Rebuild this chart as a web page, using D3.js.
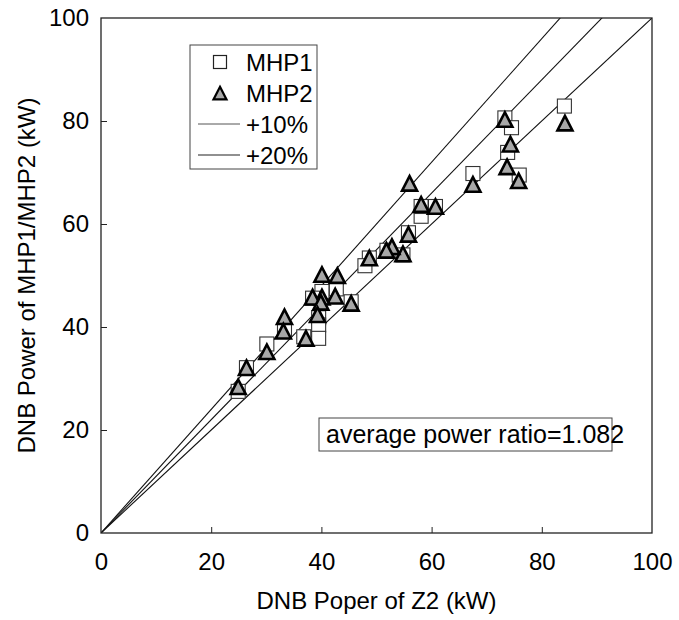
<!DOCTYPE html>
<html>
<head>
<meta charset="utf-8">
<script src="https://cdn.jsdelivr.net/npm/d3@7"></script>
<style>
  html, body { margin: 0; padding: 0; background: #fff; }
  svg { display: block; font-family: "Liberation Sans", Arial, sans-serif; }
</style>
</head>
<body>
<svg id="chart" width="679" height="620"></svg>
<script>
// ---- data ----
const mhp1X = [84.1, 73.3, 74.5, 73.8, 75.9, 67.5, 58.1, 58.1, 60.7, 55.8, 54.8, 51.9, 48.7, 47.9, 45.4, 42.7, 40.1, 38.4, 39.5, 39.5, 39.5, 36.8, 33.3, 30.1, 26.4, 24.9];
const mhp1Y = [82.9, 80.6, 78.7, 73.9, 69.5, 69.8, 61.5, 63.4, 63.4, 58.3, 54.0, 54.9, 53.4, 51.9, 44.9, 47.4, 46.9, 45.6, 41.8, 40.4, 37.8, 38.1, 39.4, 36.7, 32.1, 27.5];
const mhp2X = [84.2, 73.3, 74.3, 73.7, 75.8, 67.5, 56.0, 58.1, 60.7, 55.8, 54.8, 52.8, 51.8, 48.7, 40.1, 42.9, 42.5, 40.1, 38.4, 39.9, 45.4, 39.3, 37.2, 33.3, 33.1, 30.1, 26.4, 24.9];
const mhp2Y = [79.4, 80.1, 75.3, 70.9, 68.2, 67.5, 67.7, 63.6, 63.2, 57.8, 54.0, 55.4, 54.7, 53.2, 50.0, 49.8, 45.8, 45.6, 45.6, 44.6, 44.4, 42.2, 37.6, 41.8, 39.0, 35.0, 31.9, 28.2];
const refRatios = [1.0, 1.1, 1.2];
const tickValues = [0, 20, 40, 60, 80, 100];
const legendLabels = ["MHP1", "MHP2", "+10%", "+20%"];
const xTitle = "DNB Poper of Z2 (kW)";
const yTitle = "DNB Power of MHP1/MHP2 (kW)";
const annotation = "average power ratio=1.082";

// ---- layout ----
const W = 679, H = 620;
const m = { left: 101, right: 27, top: 18, bottom: 87 };
const iw = W - m.left - m.right, ih = H - m.top - m.bottom;
const svg = d3.select("#chart");
const g = svg.append("g").attr("transform", `translate(${m.left},${m.top})`);

const x = d3.scaleLinear().domain([0, 100]).range([0, iw]);
const y = d3.scaleLinear().domain([0, 100]).range([ih, 0]);

const FS = 24;

// clip
svg.append("defs").append("clipPath").attr("id", "clip")
  .append("rect").attr("width", iw).attr("height", ih);

// reference lines
const lineGen = d3.line().x(d => x(d[0])).y(d => y(d[1]));
g.append("g").attr("clip-path", "url(#clip)")
  .selectAll("path").data(refRatios).join("path")
  .attr("d", r => lineGen([[0, 0], [100, 100 * r]]))
  .attr("fill", "none").attr("stroke", "#111").attr("stroke-width", 1.1);

// frame
g.append("rect").attr("width", iw).attr("height", ih)
  .attr("fill", "none").attr("stroke", "#222").attr("stroke-width", 1.3);

// axes (inner ticks, labels outside)
const xAxis = d3.axisBottom(x).tickValues(tickValues).tickSize(-6).tickPadding(20).tickFormat(d3.format("d"));
const yAxis = d3.axisLeft(y).tickValues(tickValues).tickSize(-6).tickPadding(12).tickFormat(d3.format("d"));
const gx = g.append("g").attr("transform", `translate(0,${ih})`).call(xAxis);
const gy = g.append("g").call(yAxis);
[gx, gy].forEach(a => {
  a.select(".domain").remove();
  a.selectAll(".tick line").attr("stroke", "#222").attr("stroke-width", 1)
    .filter(d => d === 0 || d === 100).remove();
  a.selectAll(".tick text").attr("font-size", FS).attr("fill", "#000")
    .attr("font-family", "'Liberation Sans', Arial, sans-serif");
});

// axis titles
svg.append("text").attr("x", m.left + iw / 2).attr("y", 609)
  .attr("text-anchor", "middle").attr("font-size", FS).text(xTitle);
svg.append("text").attr("transform", `translate(35,${m.top + ih / 2}) rotate(-90)`)
  .attr("text-anchor", "middle").attr("font-size", FS).text(yTitle);

// markers
const triPath = (s) => `M0,${-s * 0.55}L${s / 2},${s * 0.42}L${-s / 2},${s * 0.42}Z`;
const sq = 14;
g.append("g").selectAll("rect").data(d3.range(mhp1X.length)).join("rect")
  .attr("x", i => x(mhp1X[i]) - sq / 2).attr("y", i => y(mhp1Y[i]) - sq / 2)
  .attr("width", sq).attr("height", sq)
  .attr("fill", "#fff").attr("stroke", "#333").attr("stroke-width", 1.1);
g.append("g").selectAll("path").data(d3.range(mhp2X.length)).join("path")
  .attr("transform", i => `translate(${x(mhp2X[i])},${y(mhp2Y[i])})`)
  .attr("d", triPath(15))
  .attr("fill", "#a8a8a8").attr("stroke", "#000").attr("stroke-width", 2.6)
  .attr("stroke-linejoin", "miter");

// legend
const lg = svg.append("g");
lg.append("rect").attr("x", 190).attr("y", 45).attr("width", 127).attr("height", 124)
  .attr("fill", "#fff").attr("stroke", "#444").attr("stroke-width", 1);
const rowY = [62, 93, 124, 155];
lg.append("rect").attr("x", 220 - 6.5).attr("y", rowY[0] - 6.5).attr("width", 13).attr("height", 13)
  .attr("fill", "#fff").attr("stroke", "#222").attr("stroke-width", 1.2);
lg.append("path").attr("transform", `translate(220,${rowY[1] + 1})`).attr("d", triPath(13))
  .attr("fill", "#a8a8a8").attr("stroke", "#000").attr("stroke-width", 2.2);
lg.append("line").attr("x1", 198).attr("x2", 240).attr("y1", rowY[2]).attr("y2", rowY[2])
  .attr("stroke", "#555").attr("stroke-width", 1);
lg.append("line").attr("x1", 198).attr("x2", 240).attr("y1", rowY[3]).attr("y2", rowY[3])
  .attr("stroke", "#222").attr("stroke-width", 1.2);
lg.selectAll("text.lab").data(legendLabels).join("text").attr("class", "lab")
  .attr("x", 246).attr("y", (d, i) => rowY[i]).attr("dy", "0.36em")
  .attr("font-size", FS).text(d => d);

// annotation box
svg.append("rect").attr("x", 319).attr("y", 418).attr("width", 293).attr("height", 33)
  .attr("fill", "none").attr("stroke", "#444").attr("stroke-width", 1);
svg.append("text").attr("x", 326).attr("y", 443).attr("font-size", 25).text(annotation);
</script>
</body>
</html>
